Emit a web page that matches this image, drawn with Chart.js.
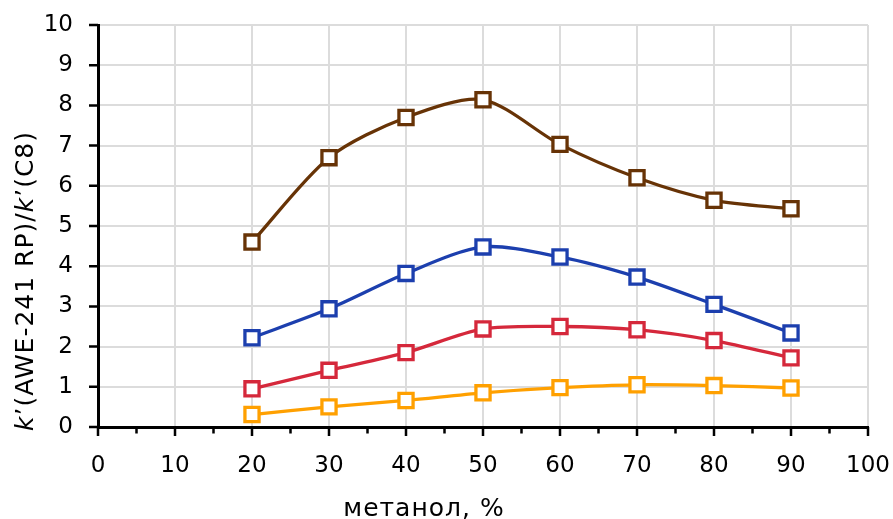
<!DOCTYPE html>
<html>
<head>
<meta charset="utf-8">
<script src="https://cdn.jsdelivr.net/npm/chart.js@4.4.1/dist/chart.umd.min.js"></script>
<style>
  html, body { margin: 0; padding: 0; background: #ffffff; }
  #wrap { position: relative; width: 893px; height: 519px; }
</style>
</head>
<body>
<div id="wrap"><canvas id="chart" width="893" height="519"></canvas></div>
<script>
// Methanol content in the mobile phase, %
const methanol = [20, 30, 40, 50, 60, 70, 80, 90];

// Retention-factor ratios k'(AWE-241 RP)/k'(C8) for four analytes
const seriesBrown  = [4.60, 6.70, 7.70, 8.14, 7.03, 6.20, 5.64, 5.43];
const seriesBlue   = [2.22, 2.94, 3.82, 4.48, 4.23, 3.73, 3.05, 2.34];
const seriesRed    = [0.95, 1.41, 1.85, 2.44, 2.50, 2.42, 2.15, 1.72];
const seriesOrange = [0.31, 0.50, 0.66, 0.85, 0.98, 1.05, 1.03, 0.97];

const xTicks = [0, 10, 20, 30, 40, 50, 60, 70, 80, 90, 100];
const xMinorTicks = [5, 15, 25, 35, 45, 55, 65, 75, 85, 95];
const yTicks = [0, 1, 2, 3, 4, 5, 6, 7, 8, 9, 10];

const xTitle = 'метанол, %';
const FONT = '"DejaVu Sans", sans-serif';
const FONT_SIZE = 23;
const TITLE_SIZE = 25;

function points(values) {
  return methanol.map((x, i) => ({ x: x, y: values[i] }));
}

function makeSet(values, color) {
  return {
    data: points(values),
    borderColor: color,
    backgroundColor: '#ffffff',
    borderWidth: 3.3,
    tension: 0.28,
    pointStyle: 'rect',
    pointRadius: 10,
    pointHoverRadius: 10,
    pointBorderWidth: 3.3,
    pointBackgroundColor: '#ffffff',
    pointBorderColor: color,
    fill: false
  };
}

// Axis tick marks (major and minor) drawn outside the plot frame
const tickMarks = {
  id: 'tickMarks',
  afterDraw(chart) {
    const ctx = chart.ctx;
    const xs = chart.scales.x, ys = chart.scales.y;
    const area = chart.chartArea;
    ctx.save();
    ctx.strokeStyle = '#000000';
    ctx.lineWidth = 2.5;
    ctx.beginPath();
    xTicks.forEach(v => {
      const px = xs.getPixelForValue(v);
      ctx.moveTo(px, area.bottom);
      ctx.lineTo(px, area.bottom + 9);
    });
    xMinorTicks.forEach(v => {
      const px = xs.getPixelForValue(v);
      ctx.moveTo(px, area.bottom);
      ctx.lineTo(px, area.bottom + 6.5);
    });
    yTicks.forEach(v => {
      const py = ys.getPixelForValue(v);
      ctx.moveTo(area.left, py);
      ctx.lineTo(area.left - 9, py);
    });
    ctx.stroke();
    ctx.restore();
  }
};

// Axis titles; the y title mixes italic "k" with upright text
const axisTitles = {
  id: 'axisTitles',
  afterDraw(chart) {
    const ctx = chart.ctx;
    const area = chart.chartArea;
    ctx.save();
    ctx.fillStyle = '#000000';
    ctx.textBaseline = 'alphabetic';
    ctx.letterSpacing = '1px';

    // x title
    ctx.font = TITLE_SIZE + 'px ' + FONT;
    ctx.textAlign = 'center';
    ctx.fillText(xTitle, area.left + 326, area.bottom + 89);

    // y title, rotated to read bottom-to-top
    const parts = [
      { t: 'k', italic: true },
      { t: '’(AWE-241 RP)/', italic: false },
      { t: 'k', italic: true },
      { t: '’(C8)', italic: false }
    ];
    const fontFor = p => (p.italic ? 'italic ' : '') + TITLE_SIZE + 'px ' + FONT;
    let total = 0;
    parts.forEach(p => { ctx.font = fontFor(p); total += ctx.measureText(p.t).width; });
    const cx = 33;
    const cy = area.bottom - 146;
    ctx.translate(cx, cy);
    ctx.rotate(-Math.PI / 2);
    ctx.textAlign = 'left';
    let pos = -total / 2;
    parts.forEach(p => {
      ctx.font = fontFor(p);
      ctx.fillText(p.t, pos, 0);
      pos += ctx.measureText(p.t).width;
    });
    ctx.restore();
  }
};

new Chart(document.getElementById('chart'), {
  type: 'line',
  data: {
    datasets: [
      makeSet(seriesBrown, '#673306'),
      makeSet(seriesBlue, '#1c3fae'),
      makeSet(seriesRed, '#d5283b'),
      makeSet(seriesOrange, '#ffa000')
    ]
  },
  options: {
    responsive: false,
    animation: false,
    devicePixelRatio: 1,
    layout: { padding: { top: 25, right: 25, bottom: 0, left: 0 } },
    plugins: {
      legend: { display: false },
      tooltip: { enabled: false },
      title: { display: false }
    },
    scales: {
      x: {
        type: 'linear',
        min: 0,
        max: 100,
        afterBuildTicks(scale) { scale.ticks = xTicks.map(v => ({ value: v })); },
        afterFit(scale) {
          scale.height = 92;
          scale.paddingLeft = 0;
          scale.paddingRight = 0;
        },
        ticks: {
          padding: 25,
          color: '#000000',
          font: { family: FONT, size: FONT_SIZE },
          maxRotation: 0,
          autoSkip: false
        },
        grid: { color: '#dcdcdc', lineWidth: 2, drawTicks: false },
        border: { color: '#000000', width: 3 }
      },
      y: {
        type: 'linear',
        min: 0,
        max: 10,
        afterBuildTicks(scale) { scale.ticks = yTicks.map(v => ({ value: v })); },
        afterFit(scale) {
          scale.width = 98;
          scale.paddingTop = 0;
          scale.paddingBottom = 0;
        },
        ticks: {
          padding: 25,
          color: '#000000',
          font: { family: FONT, size: FONT_SIZE },
          autoSkip: false
        },
        grid: { color: '#dcdcdc', lineWidth: 2, drawTicks: false },
        border: { color: '#000000', width: 3 }
      }
    }
  },
  plugins: [tickMarks, axisTitles]
});
</script>
</body>
</html>
